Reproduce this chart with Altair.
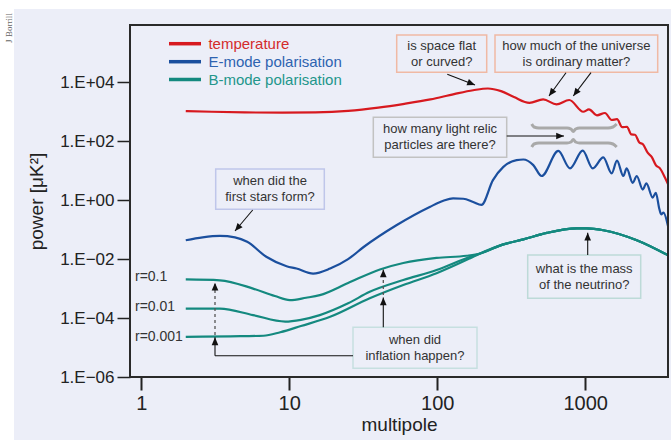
import math
import altair as alt
import pandas as pd

FONT = "Liberation Sans, Arial, sans-serif"
BG = "#ECEEF8"
INK = "#222222"

# ---------------- data ----------------
series_names = ["temperature", "E-mode polarisation", "B-mode polarisation"]
series_colors = ["#D7191F", "#1B4F9E", "#14897F"]
legend_text_colors = ["#D42B2B", "#2E63B0", "#23968B"]

temp_l = [2, 3, 5, 9, 15, 25, 40, 60, 90, 130, 175, 220, 270, 330, 420, 520, 640, 780,
          970, 1060, 1200, 1360, 1510, 1640, 1780, 1916, 2050, 2170, 2320, 2455, 2650,
          2820, 3000, 3200, 3450, 3626]
temp_p = [1.05e3, 1.0e3, 9.5e2, 9.3e2, 9.5e2, 1.07e3, 1.38e3, 1.86e3, 2.63e3, 3.98e3,
          5.37e3, 6.17e3, 5.01e3, 3.16e3, 2.0e3, 2.63e3, 1.78e3, 2.51e3, 1.0e3, 1.2e3,
          7.6e2, 9.1e2, 5.25e2, 5.6e2, 3.0e2, 3.1e2, 1.7e2, 1.66e2, 91, 79,
          40, 29, 15.5, 12, 6.0, 3.5]

emode_l = [2, 2.6, 3.4, 4.3, 5.2, 7.0, 9.6, 11.2, 14.5, 18.9, 25, 32, 53, 89, 110, 128,
           150, 175, 199, 238, 280, 344, 382, 446, 508, 658, 789, 962, 1125, 1325, 1510,
           1640, 1810, 1905, 2095, 2230, 2448, 2590, 2858, 3000, 3170, 3260, 3380, 3626]
emode_p = [0.0437, 0.055, 0.0617, 0.055, 0.0389, 0.012, 0.00575, 0.00479, 0.00324, 0.00479,
           0.01, 0.0263, 0.141, 0.589, 0.955, 1.15, 1.12, 0.871, 0.692, 4.79,
           13.5, 22.9, 24.0, 15.5, 6.61, 46.8, 12.0, 47.9, 12.0, 28.2, 8.13,
           21.9, 6.61, 12.0, 3.89, 6.61, 2.29, 3.72, 1.23, 1.78, 0.501, 0.331, 0.38, 0.132]

# lensing-dominated part shared by all B-mode curves
b_tail_l = [280, 382, 550, 877, 1024, 1325, 2230, 3626]
b_tail_p = [0.0316, 0.0468, 0.0776, 0.110, 0.110, 0.0955, 0.0437, 0.0135]

b_r01_l = [2, 3.4, 5.7, 8, 10.1, 13, 16.1, 25, 41, 59, 99, 158, 195]
b_r01_p = [2.04e-3, 1.91e-3, 1.0e-3, 5.6e-4, 4.07e-4, 4.9e-4, 6.0e-4, 1.55e-3, 4.47e-3,
           7.41e-3, 1.10e-2, 1.30e-2, 1.55e-2]

b_r001_l = [2, 3.4, 5.7, 9.4, 12, 16.1, 25, 35, 59, 99, 167, 195]
b_r001_p = [2.09e-4, 2.09e-4, 1.26e-4, 7.59e-5, 8.71e-5, 1.26e-4, 3.16e-4, 7.76e-4,
            1.95e-3, 4.27e-3, 1.20e-2, 1.55e-2]

b_r0001_l = [2, 4, 6.7, 8.7, 12, 18.9, 35, 59, 99, 167, 195]
b_r0001_p = [2.29e-5, 2.40e-5, 2.51e-5, 3.31e-5, 5.37e-5, 1.10e-4, 4.68e-4, 1.32e-3,
             3.31e-3, 1.07e-2, 1.55e-2]

r_labels = ["r=0.1", "r=0.01", "r=0.001"]

x_ticks = [1, 10, 100, 1000]
y_ticks = [1e-6, 1e-4, 1e-2, 1, 1e2, 1e4]
y_tick_labels = ["1.E\u221206", "1.E\u221204", "1.E\u221202", "1.E+00", "1.E+02", "1.E+04"]

box_lines = [
    ["is space flat", "or curved?"],
    ["how much of the universe", "is ordinary matter?"],
    ["how many light relic", "particles are there?"],
    ["when did the", "first stars form?"],
    ["what is the mass", "of the neutrino?"],
    ["when did", "inflation happen?"],
]

# ---------------- layout (pixels, relative to plot area) ----------------
W, H = 538, 352
box_x1 = [266.7, 365.0, 243.3, 85.7, 397.7, 223.0]
box_x2 = [356.7, 527.7, 376.7, 194.3, 510.7, 347.0]
box_y1 = [10.0, 10.0, 92.3, 144.0, 230.0, 302.3]
box_y2 = [47.3, 47.3, 132.3, 184.3, 273.3, 343.3]
box_stroke = ["#F0B9A4", "#F0B9A4", "#C2C2C2", "#BFC6EA", "#BDDAD8", "#C6DFE0"]

solid_arrows = [  # x1, y1, tip x, tip y, head?
    (317.3, 49.3, 345.0, 60.0, True),
    (436.0, 47.7, 419.0, 71.0, True),
    (461.0, 47.7, 443.3, 71.0, True),
    (376.7, 111.0, 434.0, 111.0, True),
    (122.7, 185.0, 105.0, 206.0, True),
    (457.7, 230.0, 457.7, 207.7, True),
    (253.3, 302.3, 253.3, 272.5, True),
    (223.0, 330.7, 85.0, 330.7, False),
    (85.0, 330.7, 85.0, 312.3, True),
]
dotted_arrows = [
    (253.3, 270.0, 253.3, 244.5, True),
    (85.0, 310.0, 85.0, 257.7, True),
]

braces = {
    "top": [(401.7, 99), (404, 102), (409, 103), (437, 103), (441, 104), (443.3, 106.5),
            (445.6, 104), (449.6, 103), (478, 103), (483, 102), (486.7, 99)],
    "bottom": [(401.7, 122), (404, 119), (409, 118), (437, 118), (441, 117), (443.3, 114.5),
               (445.6, 117), (449.6, 118), (478, 118), (483, 119), (486.7, 122)],
}

# ---------------- tables ----------------
rows = []
def add(curve, series, ls, ps):
    for l, p in zip(ls, ps):
        rows.append({"curve": curve, "series": series, "l": l, "p": p})

add("T", series_names[0], temp_l, temp_p)
add("E", series_names[1], emode_l, emode_p)
add("B01", series_names[2], b_r01_l + b_tail_l, b_r01_p + b_tail_p)
add("B001", series_names[2], b_r001_l + b_tail_l, b_r001_p + b_tail_p)
add("B0001", series_names[2], b_r0001_l + b_tail_l, b_r0001_p + b_tail_p)
curves = pd.DataFrame(rows)

box_df = pd.DataFrame({"x1": box_x1, "x2": box_x2, "y1": box_y1, "y2": box_y2,
                       "stroke": box_stroke})
txt_rows = []
for i, lines_ in enumerate(box_lines):
    cx = (box_x1[i] + box_x2[i]) / 2
    cy = (box_y1[i] + box_y2[i]) / 2
    txt_rows.append({"x": cx, "y": cy - 8, "text": lines_[0]})
    txt_rows.append({"x": cx, "y": cy + 8, "text": lines_[1]})
txt_df = pd.DataFrame(txt_rows)

def seg_df(arrs):
    return pd.DataFrame([{"x1": a[0], "y1": a[1], "x2": a[2], "y2": a[3]} for a in arrs])

HEAD_SIZE = 90
half = math.sqrt(HEAD_SIZE) / 2
def heads(arrs):
    out = []
    for x1, y1, x2, y2, h in arrs:
        if not h:
            continue
        dx, dy = x2 - x1, y2 - y1
        n = math.hypot(dx, dy)
        ux, uy = dx / n, dy / n
        ang = math.degrees(math.atan2(dx, -dy)) % 360
        out.append({"x": x2 - ux * half, "y": y2 - uy * half, "ang": ang})
    return pd.DataFrame(out)

head_df = pd.concat([heads(solid_arrows), heads(dotted_arrows)], ignore_index=True)

brace_rows = []
for k, pts in braces.items():
    for i, (x, y) in enumerate(pts):
        brace_rows.append({"id": k, "i": i, "x": x, "y": y})
brace_df = pd.DataFrame(brace_rows)

leg_y = [18.7, 36.7, 54.5]
leg_df = pd.DataFrame({"x1": [39] * 3, "x2": [71] * 3, "y": leg_y,
                       "lc": series_colors, "tc": legend_text_colors,
                       "text": series_names, "tx": [78.4] * 3})

rlab_df = pd.DataFrame({"x": [5, 5, 5], "y": [252.3, 281.7, 311.7], "text": r_labels})

# ---------------- chart ----------------
label_expr = ""
for v, lab in zip(y_ticks, y_tick_labels):
    label_expr += f"datum.value < {v * 1.5} ? '{lab}' : "
label_expr += "''"

x_axis = alt.Axis(values=x_ticks, format="d", tickSize=13, tickWidth=2, tickColor=INK,
                  domain=False, grid=False, labelFont=FONT, labelFontSize=20,
                  labelColor=INK, labelPadding=3, labelFlush=False, labelOverlap=False,
                  title="multipole", titleFont=FONT, titleFontSize=19,
                  titleFontWeight="normal", titleColor=INK, titlePadding=2)
y_axis = alt.Axis(values=y_ticks, labelExpr=label_expr, tickSize=13, tickWidth=1.5,
                  tickColor=INK, domain=False, grid=False, labelFont=FONT,
                  labelFontSize=17, labelColor=INK, labelPadding=3, labelOverlap=False,
                  labelFlush=False, title="power [\u03bcK\u00b2]", titleFont=FONT,
                  titleFontSize=19, titleFontWeight="normal", titleColor=INK,
                  titleX=-88, titleY=H / 2, titleBaseline="alphabetic", titleAngle=270)

lines = alt.Chart(curves).mark_line(clip=True, interpolate="monotone", strokeWidth=2.2).encode(
    x=alt.X("l:Q", scale=alt.Scale(type="log", domain=[0.84, 3626], nice=False), axis=x_axis),
    y=alt.Y("p:Q", scale=alt.Scale(type="log", domain=[1e-6, 8.8e5], nice=False), axis=y_axis),
    color=alt.Color("series:N", scale=alt.Scale(domain=series_names, range=series_colors),
                    legend=None),
    detail="curve:N",
)

white_left = alt.Chart(pd.DataFrame({"a": [0]})).mark_rect(color="white").encode(
    x=alt.value(-131), x2=alt.value(-116), y=alt.value(-26), y2=alt.value(416))
white_top = alt.Chart(pd.DataFrame({"a": [0]})).mark_rect(color="white").encode(
    x=alt.value(-131), x2=alt.value(542), y=alt.value(-26), y2=alt.value(-16))
credit = alt.Chart(pd.DataFrame({"a": [0]})).mark_text(
    angle=270, font="Liberation Serif, DejaVu Serif, serif", fontSize=9, color="#666666",
    align="center", baseline="middle").encode(
    x=alt.value(-121), y=alt.value(3), text=alt.value("J Borrill"))

brace_layer = alt.Chart(brace_df).mark_line(color="#A9A9A9", strokeWidth=3,
                                            interpolate="monotone").encode(
    x=alt.X("x:Q", scale=None), y=alt.Y("y:Q", scale=None), detail="id:N", order="i:Q")

box_layer = alt.Chart(box_df).mark_rect(fill=BG, strokeWidth=1.5).encode(
    x=alt.X("x1:Q", scale=None), x2="x2:Q", y=alt.Y("y1:Q", scale=None), y2="y2:Q",
    stroke=alt.Color("stroke:N", scale=None))

box_text = alt.Chart(txt_df).mark_text(font=FONT, fontSize=13, color="#333333",
                                       align="center", baseline="middle").encode(
    x=alt.X("x:Q", scale=None), y=alt.Y("y:Q", scale=None), text="text:N")

solid_layer = alt.Chart(seg_df(solid_arrows)).mark_rule(color="#111111", strokeWidth=1.1).encode(
    x=alt.X("x1:Q", scale=None), y=alt.Y("y1:Q", scale=None), x2="x2:Q", y2="y2:Q")
dotted_layer = alt.Chart(seg_df(dotted_arrows)).mark_rule(
    color="#555555", strokeWidth=1.3, strokeDash=[3, 3]).encode(
    x=alt.X("x1:Q", scale=None), y=alt.Y("y1:Q", scale=None), x2="x2:Q", y2="y2:Q")
head_layer = alt.Chart(head_df).mark_point(
    shape="M0,-1L0.7,0.65L-0.7,0.65Z", filled=True, color="#111111", opacity=1,
    size=HEAD_SIZE).encode(
    x=alt.X("x:Q", scale=None), y=alt.Y("y:Q", scale=None),
    angle=alt.Angle("ang:Q", scale=None))

leg_lines = alt.Chart(leg_df).mark_rule(strokeWidth=3.5).encode(
    x=alt.X("x1:Q", scale=None), x2="x2:Q", y=alt.Y("y:Q", scale=None),
    color=alt.Color("lc:N", scale=None))
leg_text = alt.Chart(leg_df).mark_text(font=FONT, fontSize=15, align="left",
                                       baseline="middle").encode(
    x=alt.X("tx:Q", scale=None), y=alt.Y("y:Q", scale=None), text="text:N",
    color=alt.Color("tc:N", scale=None))

r_text = alt.Chart(rlab_df).mark_text(font=FONT, fontSize=14, align="left",
                                      baseline="middle", color="#333333").encode(
    x=alt.X("x:Q", scale=None), y=alt.Y("y:Q", scale=None), text="text:N")

frame = alt.Chart(pd.DataFrame({"a": [0]})).mark_rect(
    fillOpacity=0, stroke="#2A2A2A", strokeWidth=2).encode(
    x=alt.value(0), x2=alt.value(W), y=alt.value(0), y2=alt.value(H))

chart = alt.layer(
    lines, white_left, white_top, credit, brace_layer, box_layer, box_text,
    solid_layer, dotted_layer, head_layer, leg_lines, leg_text, r_text, frame
).properties(
    width=W, height=H,
    autosize=alt.AutoSizeParams(type="none"),
    padding={"left": 130, "top": 25, "right": 3, "bottom": 63},
    background=BG,
).configure_view(strokeWidth=0)

chart.save("out.html", embed_options={"renderer": "svg", "actions": False})
